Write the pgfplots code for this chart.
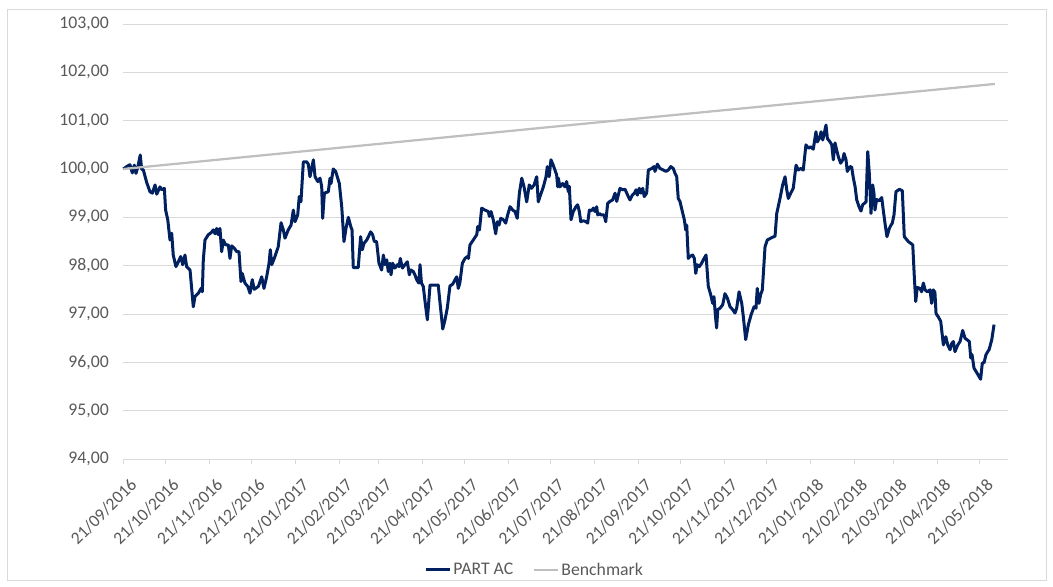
\documentclass[border=0pt]{standalone}
\usepackage{fontspec}
\setmainfont{Carlito}
\usepackage{pgfplots}
\usepackage{pgfplotstable}
\pgfplotsset{compat=1.18}
\definecolor{navy}{RGB}{0,32,96}
\definecolor{bench}{RGB}{191,191,191}
\definecolor{txt}{RGB}{89,89,89}
\definecolor{gridc}{RGB}{217,217,217}

% x = days since 21/09/2016
\pgfplotstableread{
d v
0 100.00
2.4 100.05
4.7 100.09
6.4 99.92
7.8 100.08
9.0 99.91
10.6 100.08
12.0 100.29
13.0 100.00
14.2 99.98
16.6 99.72
18.9 99.53
20.6 99.50
22.5 99.67
23.7 99.48
26.0 99.63
27.2 99.57
29.1 99.60
30.0 99.15
31.5 98.95
33.1 98.53
34.3 98.67
35.4 98.22
37.3 97.98
39.0 98.08
40.7 98.19
42.1 98.02
43.7 98.22
44.9 97.98
47.3 97.91
49.6 97.15
50.8 97.36
53.2 97.43
55.1 97.53
56.0 97.46
56.7 98.12
57.9 98.53
60.2 98.64
62.2 98.68
63.8 98.74
65.0 98.66
66.2 98.77
67.3 98.64
68.5 98.77
69.7 98.29
70.9 98.53
72.6 98.43
74.4 98.43
75.6 98.15
76.8 98.41
78.7 98.36
80.4 98.29
82.0 98.29
83.4 97.67
84.3 97.84
86.2 97.64
88.2 97.57
89.8 97.43
91.4 97.71
92.8 97.51
95.7 97.57
98.1 97.77
99.7 97.53
101.6 97.77
103.3 98.05
104.2 98.33
105.2 98.02
107.5 98.19
109.8 98.39
111.8 98.89
113.4 98.74
114.6 98.57
116.9 98.74
118.9 98.84
120.5 99.15
121.7 98.91
123.6 99.05
124.7 99.43
125.9 99.32
127.6 100.15
129.9 100.15
131.1 100.10
132.3 99.84
133.5 100.01
134.7 100.19
135.9 99.84
137.8 99.74
139.4 99.81
140.6 99.64
141.3 98.98
142.5 99.50
145.3 99.53
146.5 99.81
147.2 99.70
148.8 100.00
150.5 99.95
153.1 99.70
154.8 99.22
156.4 98.50
157.8 98.77
159.5 99.00
161.2 98.81
162.1 98.74
163.0 97.96
166.5 97.96
168.2 98.60
169.4 98.33
170.6 98.46
172.5 98.53
173.7 98.60
175.3 98.70
176.7 98.64
177.9 98.50
179.5 98.50
181.2 98.05
183.1 97.91
184.3 98.22
185.5 98.02
186.7 98.12
187.8 97.88
189.0 98.05
189.7 97.81
190.9 98.05
192.5 97.95
194.2 98.02
195.4 97.98
196.3 98.15
197.8 97.95
199.6 98.02
201.3 98.08
202.7 97.81
203.8 97.91
205.5 97.88
206.7 97.81
207.9 97.71
209.4 97.64
210.3 98.02
211.3 97.64
212.6 97.57
214.0 97.22
215.5 96.88
217.4 97.60
223.2 97.60
224.5 97.22
226.4 96.69
228.0 96.88
229.6 97.12
231.5 97.58
233.5 97.62
235.1 97.71
236.3 97.77
237.4 97.53
238.5 97.64
240.3 98.05
242.2 98.15
243.9 98.19
244.6 98.15
245.7 98.43
248.0 98.53
250.5 98.64
251.2 98.81
252.4 98.74
254.0 99.19
256.3 99.15
258.7 99.12
259.4 99.02
260.6 99.12
262.2 98.95
263.9 98.66
265.1 98.91
266.3 98.84
267.5 98.98
269.4 98.95
271.0 98.88
272.4 99.05
274.1 99.22
276.0 99.15
277.6 99.12
279.2 98.98
280.7 99.50
282.4 99.81
284.0 99.63
285.9 99.32
287.7 99.67
289.3 99.60
291.1 99.67
293.0 99.84
294.1 99.32
295.3 99.43
297.7 99.63
299.6 99.84
300.5 100.05
301.8 99.84
303.1 100.19
304.7 100.08
305.9 99.98
307.1 99.88
307.9 99.63
308.3 99.81
309.5 99.63
311.4 99.70
313.0 99.63
314.2 99.74
315.4 99.53
316.1 99.64
317.3 98.95
318.9 99.12
320.8 99.22
322.0 99.26
323.2 99.12
324.2 98.91
326.0 98.93
327.9 98.91
329.1 98.88
330.3 99.15
332.0 99.14
333.1 99.19
334.3 99.12
335.5 99.22
336.2 99.05
337.4 99.08
338.6 99.05
340.7 99.05
341.9 98.91
343.3 99.29
344.9 99.33
346.8 99.36
348.5 99.50
349.7 99.33
350.8 99.46
352.0 99.60
353.9 99.57
355.6 99.58
356.8 99.50
357.9 99.43
359.1 99.36
360.7 99.46
362.2 99.50
363.4 99.57
364.3 99.46
365.7 99.60
366.9 99.50
368.1 99.60
369.2 99.43
370.9 99.50
372.1 99.98
374.5 100.01
376.1 100.05
376.8 99.95
378.5 100.10
380.4 100.01
382.7 99.98
384.6 99.95
386.3 99.98
388.0 100.05
389.8 100.01
391.0 99.91
392.2 99.84
393.3 99.39
394.5 99.33
396.2 99.12
397.6 98.95
398.6 98.74
399.3 98.84
400.4 98.15
401.6 98.19
403.5 98.22
404.7 98.15
405.7 97.84
406.8 98.02
408.2 97.98
409.9 98.05
411.6 98.15
413.0 98.22
414.6 97.57
416.3 97.40
417.7 97.22
418.6 97.36
419.8 96.91
420.5 96.71
421.3 97.09
422.9 97.12
424.8 97.19
426.4 97.42
428.1 97.33
430.0 97.15
431.9 97.09
433.5 97.02
434.7 97.12
436.4 97.46
438.3 97.22
439.4 96.95
441.1 96.47
443.0 96.78
444.9 96.98
447.0 97.15
448.4 97.12
449.3 97.53
450.5 97.22
451.7 97.40
452.9 97.50
454.8 98.39
456.4 98.53
459.5 98.58
461.9 98.61
463.1 99.08
465.4 99.39
467.3 99.67
469.0 99.84
470.2 99.57
471.3 99.39
473.0 99.50
474.8 99.60
476.8 100.08
478.4 99.98
480.1 100.01
481.9 99.98
483.8 100.50
485.5 100.43
487.2 100.46
489.0 100.41
490.9 100.77
491.8 100.56
493.3 100.63
494.5 100.77
495.7 100.60
496.8 100.74
498.0 100.91
499.0 100.63
500.9 100.56
502.1 100.50
503.2 100.19
504.4 100.54
505.6 100.39
506.8 100.25
508.4 100.12
509.9 100.19
510.8 100.32
512.2 100.19
513.1 99.95
515.0 100.05
516.2 100.04
517.4 99.81
518.6 99.64
519.8 99.36
521.4 99.22
522.8 99.13
524.0 99.26
526.4 99.32
527.6 100.36
528.7 99.91
529.9 99.08
531.1 99.67
532.0 99.50
532.7 99.15
533.9 99.37
535.6 99.34
537.5 99.41
538.6 99.15
540.0 98.84
541.2 98.60
542.9 98.77
544.1 98.84
545.0 98.88
546.2 99.05
547.6 99.53
550.0 99.58
552.1 99.55
553.5 98.60
556.3 98.50
559.5 98.43
560.6 97.77
561.6 97.26
562.7 97.55
564.6 97.53
565.8 97.46
567.0 97.64
568.2 97.50
569.8 97.46
571.7 97.50
572.9 97.22
574.0 97.50
575.2 97.45
576.0 97.01
577.6 96.94
579.3 96.85
581.2 96.36
582.9 96.53
584.3 96.36
585.9 96.26
587.1 96.39
588.3 96.43
589.4 96.22
591.4 96.36
593.0 96.43
594.9 96.66
596.5 96.50
599.6 96.43
600.6 96.09
601.5 96.16
602.9 95.88
604.8 95.79
607.6 95.65
608.8 95.99
610.0 95.99
611.4 96.16
613.7 96.27
615.5 96.47
617.1 96.78
}\partac

\pgfplotstableread{
d v
0 100.00
122 100.35
303 100.87
487 101.39
617.7 101.76
}\benchmark

\begin{document}
\begin{tikzpicture}
\useasboundingbox (0bp,0bp) rectangle (1053bp,587bp);
\draw[gridc, line width=0.75bp] (7bp,7bp) rectangle (1046bp,578bp);
\begin{axis}[
  at={(123.3bp,128bp)}, anchor=south west,
  scale only axis, width=884.7bp, height=435bp,
  xmin=0, xmax=627, ymin=94, ymax=103,
  ytick={94,95,...,103},
  xtick={0,30,61,91,122,153,181,212,242,273,303,334,365,395,426,456,487,518,546,577,607},
  xticklabels={21/09/2016,21/10/2016,21/11/2016,21/12/2016,21/01/2017,21/02/2017,21/03/2017,21/04/2017,21/05/2017,21/06/2017,21/07/2017,21/08/2017,21/09/2017,21/10/2017,21/11/2017,21/12/2017,21/01/2018,21/02/2018,21/03/2018,21/04/2018,21/05/2018},
  axis x line*=bottom, axis y line*=left,
  x axis line style={gridc, line width=0.75bp},
  y axis line style={draw=none},
  ymajorgrids, grid style={gridc, line width=0.75bp},
  xtick style={gridc, line width=0.75bp}, ytick style={draw=none},
  tick align=outside, major tick length=5bp,
  /pgf/number format/assume math mode=true,
  yticklabel style={/pgf/number format/fixed, /pgf/number format/fixed zerofill,
    /pgf/number format/precision=2, /pgf/number format/use comma,
    font=\fontsize{17.8}{21}\selectfont, text=txt, xshift=-6bp},
  xticklabel style={font=\fontsize{17.6}{21}\selectfont, text=txt, rotate=45, anchor=north east, xshift=-2bp, yshift=-10bp},
  legend style={at={(0.465,-0.255)}, anchor=center, draw=none, fill=none,
    legend columns=2, font=\fontsize{17.8}{21}\selectfont, text=txt,
    /tikz/every even column/.append style={column sep=18bp}},
  legend image code/.code={\draw[#1] (0bp,0bp) -- (24bp,0bp);},
  clip=false,
]
\addplot[navy, line width=3bp, line join=round] table[x=d, y=v] {\partac};
\addlegendentry{PART AC}
\addplot[bench, line width=2.25bp] table[x=d, y=v] {\benchmark};
\addlegendentry{Benchmark}
\end{axis}
\end{tikzpicture}
\end{document}
